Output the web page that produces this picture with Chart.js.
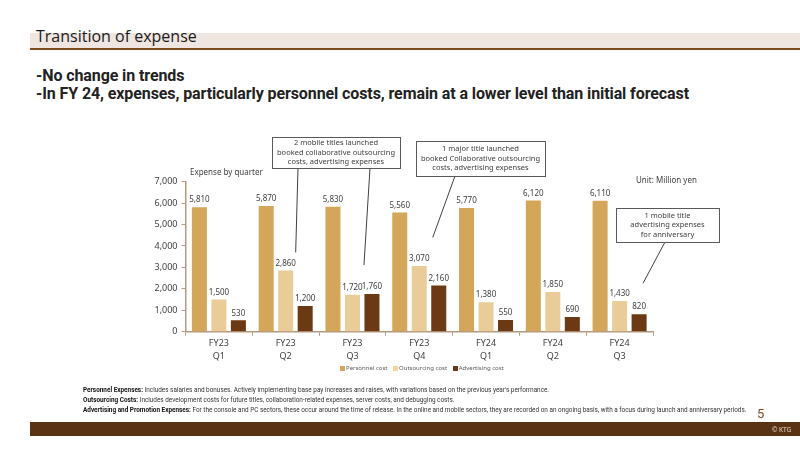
<!DOCTYPE html>
<html>
<head>
<meta charset="utf-8">
<script src="https://cdn.jsdelivr.net/npm/chart.js@4.4.0/dist/chart.umd.min.js"></script>
<style>
  html, body { margin: 0; padding: 0; background: #fff; }
  body { width: 800px; height: 449px; position: relative; overflow: hidden; font-family: "Open Sans", sans-serif; color: #222; }
  .abs { position: absolute; white-space: nowrap; }
  #titleBand { left: 30px; top: 33px; width: 770px; height: 15px; background: #efe6e2; border-bottom: 2px solid #7b4a1e; }
  #title { left: 36px; top: 25px; font-size: 16px; color: #1a1a1a; }
  .head { left: 36px; font-size: 16px; font-weight: bold; font-family: Roboto, sans-serif; color: #222; letter-spacing: -0.1px; }
  #chartWrap { left: 0; top: 0; width: 800px; height: 449px; }
  .small { font-size: 8px; color: #404040; font-family: "Noto Sans", sans-serif; }
  #legend { top: 364px; left: 340px; font-size: 6px; color: #595959; font-family: "Noto Sans", sans-serif; }
  #legend span.box { display: inline-block; width: 5px; height: 5px; margin-right: 1px; vertical-align: -0.5px; }
  #legend span.item { margin-right: 4px; }
  .note { left: 83px; font-size: 6.4px; color: #333; font-family: Roboto, sans-serif; }
  .note b { color: #111; }
  #pageNo { left: 757px; top: 406px; font-size: 13px; color: #7b4a1e; font-family: Roboto, sans-serif; }
  #footer { left: 30px; top: 422px; width: 770px; height: 14px; background: #5a3214; }
  #copy { left: 772px; top: 425px; font-size: 6.5px; color: #e8d8c8; font-family: "Noto Sans", sans-serif; }
</style>
</head>
<body>
<div class="abs" id="titleBand"></div>
<div class="abs" id="title">Transition of expense</div>
<div class="abs head" style="top:66px">-No change in trends</div>
<div class="abs head" style="top:84px">-In FY 24, expenses, particularly personnel costs, remain at a lower level than initial forecast</div>

<div class="abs" id="chartWrap"><canvas id="expenseChart" width="800" height="449"></canvas></div>

<div class="abs small" style="left:190px; top:166px;">Expense by quarter</div>
<div class="abs small" style="left:636px; top:174px;">Unit: Million yen</div>

<div class="abs" id="legend">
  <span class="item"><span class="box" style="background:#d4a659"></span>Personnel cost</span>
  <span class="item"><span class="box" style="background:#f3d79e"></span>Outsourcing cost</span>
  <span class="item"><span class="box" style="background:#6b3a14"></span>Advertising cost</span>
</div>

<div class="abs note" style="top:386px"><b>Personnel Expenses:</b> Includes salaries and bonuses. Actively implementing base pay increases and raises, with variations based on the previous year's performance.</div>
<div class="abs note" style="top:396px"><b>Outsourcing Costs:</b> Includes development costs for future titles, collaboration-related expenses, server costs, and debugging costs.</div>
<div class="abs note" style="top:406px"><b>Advertising and Promotion Expenses:</b> For the console and PC sectors, these occur around the time of release. In the online and mobile sectors, they are recorded on an ongoing basis, with a focus during launch and anniversary periods.</div>
<div class="abs" id="pageNo">5</div>
<div class="abs" id="footer"></div>
<div class="abs" id="copy">© KTG</div>

<script>
const quarters = [['FY23', 'Q1'], ['FY23', 'Q2'], ['FY23', 'Q3'], ['FY23', 'Q4'], ['FY24', 'Q1'], ['FY24', 'Q2'], ['FY24', 'Q3']];
const personnelCost = [5810, 5870, 5830, 5560, 5770, 6120, 6110];
const outsourcingCost = [1500, 2860, 1720, 3070, 1380, 1850, 1430];
const advertisingCost = [530, 1200, 1760, 2160, 550, 690, 820];
const yTicks = [0, 1000, 2000, 3000, 4000, 5000, 6000, 7000];

// callout boxes: text, box rect, and what each pointer line aims at (category, dataset, offsets)
const callouts = [
  { lines: ['2 mobile titles launched', 'booked collaborative outsourcing', 'costs, advertising expenses'],
    box: [272, 137, 128, 31],
    pointers: [{ from: [298, 168], cat: 1, ds: 1, dx: 10, dy: -18 },
               { from: [370, 168], cat: 2, ds: 2, dx: -8, dy: -29 }] },
  { lines: ['1 major title launched', 'booked Collaborative outsourcing', 'costs, advertising expenses'],
    box: [416, 141, 129, 35],
    pointers: [{ from: [455, 176], cat: 3, ds: 2, dx: -6, dy: -48 }] },
  { lines: ['1 mobile title', 'advertising expenses', 'for anniversary'],
    box: [616, 208, 103, 34],
    pointers: [{ from: [665, 242], cat: 6, ds: 2, dx: 4, dy: -31 }] }
];

const fmt = v => v.toLocaleString('en-US');

const valueLabels = {
  id: 'valueLabels',
  afterDatasetsDraw(chart) {
    const ctx = chart.ctx;
    ctx.save();
    ctx.font = '8px "Noto Sans", sans-serif';
    ctx.fillStyle = '#404040';
    ctx.textAlign = 'center';
    ctx.textBaseline = 'bottom';
    chart.data.datasets.forEach((ds, i) => {
      chart.getDatasetMeta(i).data.forEach((bar, j) => {
        ctx.fillText(fmt(ds.data[j]), bar.x, bar.y - 3);
      });
    });
    ctx.restore();
  }
};

const calloutPlugin = {
  id: 'callouts',
  afterDraw(chart) {
    const ctx = chart.ctx;
    ctx.save();
    callouts.forEach(c => {
      ctx.strokeStyle = '#404040';
      ctx.lineWidth = 1;
      c.pointers.forEach(p => {
        const bar = chart.getDatasetMeta(p.ds).data[p.cat];
        ctx.beginPath();
        ctx.moveTo(p.from[0], p.from[1]);
        ctx.lineTo(bar.x + p.dx, bar.y + p.dy);
        ctx.stroke();
      });
      const [x, y, w, h] = c.box;
      ctx.fillStyle = '#fff';
      ctx.fillRect(x, y, w, h);
      ctx.strokeStyle = '#595959';
      ctx.strokeRect(x + 0.5, y + 0.5, w, h);
      ctx.fillStyle = '#404040';
      ctx.font = '7.5px "Noto Sans", sans-serif';
      ctx.textAlign = 'center';
      ctx.textBaseline = 'middle';
      const top = y + h / 2 - (c.lines.length - 1) * 4.7;
      c.lines.forEach((t, k) => ctx.fillText(t, x + w / 2, top + k * 9.4));
    });
    ctx.restore();
  }
};

const axisColor = '#b39a80';

new Chart(document.getElementById('expenseChart'), {
  type: 'bar',
  data: {
    labels: quarters,
    datasets: [
      { label: 'Personnel cost', data: personnelCost, backgroundColor: '#d4a659' },
      { label: 'Outsourcing cost', data: outsourcingCost, backgroundColor: '#e9cc98' },
      { label: 'Advertising cost', data: advertisingCost, backgroundColor: '#6b3a14' }
    ]
  },
  options: {
    responsive: false,
    animation: false,
    events: [],
    barPercentage: 0.77,
    categoryPercentage: 0.876,
    layout: { padding: { left: 140, right: 147, top: 181.7, bottom: 77.3 } },
    plugins: { legend: { display: false }, tooltip: { enabled: false } },
    scales: {
      x: {
        afterFit: s => { s.height = 40; },
        border: { color: axisColor, width: 1.5 },
        grid: { drawOnChartArea: false, tickLength: 4, color: axisColor, offset: true },
        ticks: { color: '#404040', padding: 1, font: { size: 9, family: '"Noto Sans", sans-serif', lineHeight: 1.45 } }
      },
      y: {
        min: 0,
        max: 7000,
        afterFit: s => { s.width = 45.5; },
        afterBuildTicks: s => { s.ticks = yTicks.map(v => ({ value: v })); },
        border: { color: axisColor, width: 1.5 },
        grid: { drawOnChartArea: false, tickLength: 4, color: axisColor },
        ticks: { color: '#404040', padding: 4, callback: v => fmt(v), font: { size: 9, family: '"Noto Sans", sans-serif' } }
      }
    }
  },
  plugins: [valueLabels, calloutPlugin]
});
</script>
</body>
</html>
